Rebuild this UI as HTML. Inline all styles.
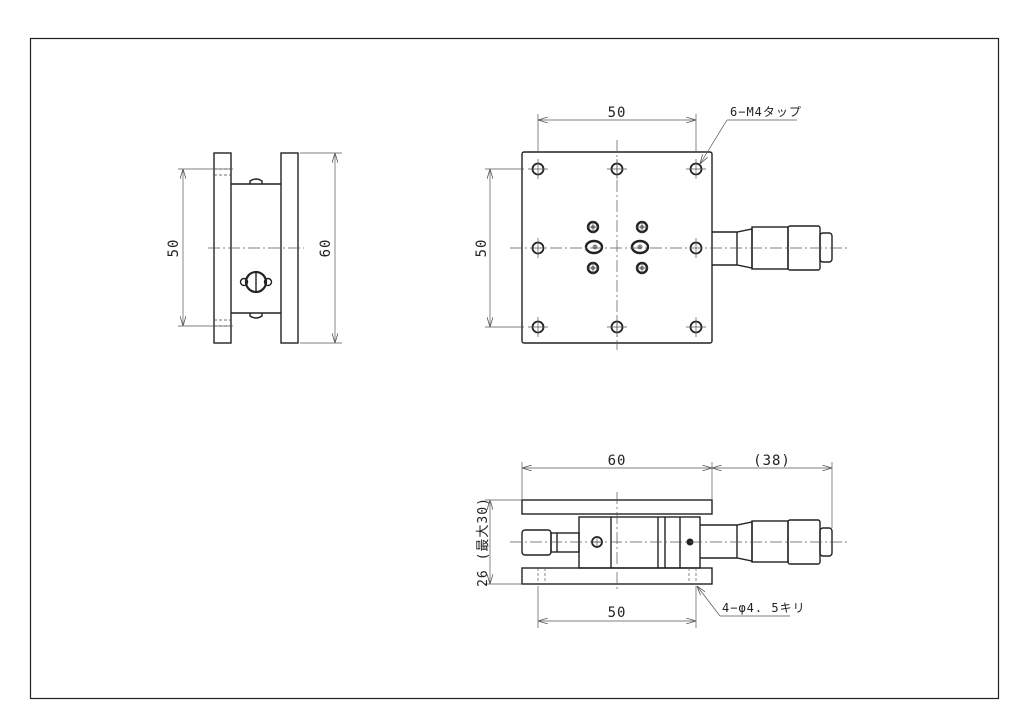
<!DOCTYPE html>
<html><head><meta charset="utf-8"><style>
html,body{margin:0;padding:0;background:#fff;width:1024px;height:724px;overflow:hidden}
svg{display:block}
text{font-family:"DejaVu Sans Mono","Liberation Mono","Noto Sans CJK JP",monospace;fill:#222;letter-spacing:1px}
</style></head><body>
<svg width="1024" height="724" viewBox="0 0 1024 724" xmlns="http://www.w3.org/2000/svg">
<defs>
<marker id="a" markerWidth="10" markerHeight="6" refX="10" refY="3" orient="auto-start-reverse" markerUnits="userSpaceOnUse"><path d="M0,0 L10,3 L0,6" fill="none" stroke="#555" stroke-width="0.8"/></marker>
</defs>
<rect x="30.5" y="38.5" width="968" height="660" fill="none" stroke="#222" stroke-width="1.2"/>

<!-- SIDE VIEW -->
<g stroke="#222" stroke-width="1.4" fill="none">
<rect x="214" y="153" width="17" height="190"/>
<rect x="281" y="153" width="17" height="190"/>
<line x1="231" y1="184" x2="281" y2="184"/>
<line x1="231" y1="313" x2="281" y2="313"/>
<path d="M250,184 v-3 q6,-4 12,0 v3"/>
<path d="M250,313 v3 q6,4 12,0 v-3"/>
<circle cx="256" cy="282" r="10" stroke-width="2.2"/>
<circle cx="244" cy="282" r="3.5"/><circle cx="268" cy="282" r="3.5"/>
<line x1="256" y1="272" x2="256" y2="292"/>
</g>
<g stroke="#444" stroke-width="0.7" stroke-dasharray="3,2" fill="none">
<line x1="214" y1="169" x2="231" y2="169"/><line x1="214" y1="175" x2="231" y2="175"/>
<line x1="214" y1="320" x2="231" y2="320"/><line x1="214" y1="326" x2="231" y2="326"/>
</g>
<g stroke="#555" stroke-width="0.7" fill="none">
<line x1="208" y1="248" x2="304" y2="248" stroke-dasharray="12,3,2,3"/>
<line x1="178" y1="169" x2="233" y2="169"/><line x1="178" y1="326" x2="233" y2="326"/>
<line x1="183" y1="169" x2="183" y2="326" marker-start="url(#a)" marker-end="url(#a)"/>
<line x1="300" y1="153" x2="342" y2="153"/><line x1="300" y1="343" x2="342" y2="343"/>
<line x1="335" y1="153" x2="335" y2="343" marker-start="url(#a)" marker-end="url(#a)"/>
</g>
<text x="0" y="0" font-size="14" text-anchor="middle" transform="translate(178,248) rotate(-90)">50</text>
<text x="0" y="0" font-size="14" text-anchor="middle" transform="translate(330,248) rotate(-90)">60</text>

<!-- TOP VIEW -->
<g stroke="#222" stroke-width="1.4" fill="none">
<rect x="522" y="152" width="190" height="191" rx="2"/>
<path d="M712,232 H737 L752,229 V268 L737,265 H712"/>
<line x1="737" y1="232" x2="737" y2="265"/>
<rect x="752" y="227" width="36" height="42"/>
<rect x="788" y="226" width="32" height="44" rx="2"/>
<rect x="820" y="233" width="12" height="29" rx="3"/>
</g>
<g stroke="#222" stroke-width="1.8" fill="#fff">
<circle cx="538" cy="169" r="5.5"/><circle cx="617" cy="169" r="5.5"/><circle cx="696" cy="169" r="5.5"/>
<circle cx="538" cy="248" r="5.5"/><circle cx="696" cy="248" r="5.5"/>
<circle cx="538" cy="327" r="5.5"/><circle cx="617" cy="327" r="5.5"/><circle cx="696" cy="327" r="5.5"/>
<circle cx="593" cy="227" r="5" stroke-width="2.4"/><circle cx="593" cy="268" r="5" stroke-width="2.4"/>
<circle cx="642" cy="227" r="5" stroke-width="2.4"/><circle cx="642" cy="268" r="5" stroke-width="2.4"/>
<ellipse cx="594" cy="247" rx="8" ry="6" stroke-width="2.4"/><ellipse cx="640" cy="247" rx="8" ry="6" stroke-width="2.4"/>
</g>
<g fill="#888"><circle cx="593" cy="227" r="2"/><circle cx="593" cy="268" r="2"/><circle cx="642" cy="227" r="2"/><circle cx="642" cy="268" r="2"/><circle cx="595" cy="247" r="2.5"/><circle cx="640" cy="247" r="2.5"/></g>
<g stroke="#555" stroke-width="0.7" fill="none">
<path d="M528,169h20M538,159v20M607,169h20M617,159v20M686,169h20M696,159v20M528,327h20M538,317v20M607,327h20M617,317v20M686,327h20M696,317v20M538,238v20M696,238v20M587,227h12M593,221v12M587,268h12M593,262v12M636,227h12M642,221v12M636,268h12M642,262v12"/>
<line x1="617" y1="140" x2="617" y2="350" stroke-dasharray="12,3,2,3"/>
<line x1="510" y1="248" x2="848" y2="248" stroke-dasharray="12,3,2,3"/>
<line x1="538" y1="114" x2="538" y2="152"/><line x1="696" y1="114" x2="696" y2="152"/>
<line x1="538" y1="120" x2="696" y2="120" marker-start="url(#a)" marker-end="url(#a)"/>
<line x1="485" y1="169" x2="524" y2="169"/><line x1="485" y1="327" x2="524" y2="327"/>
<line x1="490" y1="169" x2="490" y2="327" marker-start="url(#a)" marker-end="url(#a)"/>
<line x1="727" y1="120" x2="700" y2="164" marker-end="url(#a)"/>
<line x1="727" y1="120" x2="797" y2="120"/>
</g>
<text x="617" y="117" font-size="14" text-anchor="middle">50</text>
<text x="0" y="0" font-size="14" text-anchor="middle" transform="translate(486,248) rotate(-90)">50</text>
<text x="730" y="116" font-size="12" letter-spacing="0">6−M4タップ</text>

<!-- FRONT VIEW -->
<g stroke="#222" stroke-width="1.4" fill="none">
<rect x="522" y="500" width="190" height="14"/>
<rect x="522" y="568" width="190" height="16"/>
<rect x="579" y="517" width="121" height="51"/>
<line x1="611" y1="517" x2="611" y2="568"/>
<line x1="658" y1="517" x2="658" y2="568"/>
<line x1="665" y1="517" x2="665" y2="568"/>
<line x1="680" y1="517" x2="680" y2="568"/>
<rect x="522" y="530" width="29" height="25" rx="3"/>
<rect x="551" y="533" width="28" height="19"/>
<line x1="557" y1="533" x2="557" y2="552"/>
<path d="M700,525 H737 L752,522 V561 L737,558 H700"/>
<line x1="737" y1="525" x2="737" y2="558"/>
<rect x="752" y="521" width="36" height="41"/>
<rect x="788" y="520" width="32" height="44" rx="2"/>
<rect x="820" y="528" width="12" height="28" rx="3"/>
<circle cx="597" cy="542" r="5" stroke-width="1.8"/>
</g>
<circle cx="690" cy="542" r="3.5" fill="#222"/>
<g stroke="#555" stroke-width="0.7" fill="none">
<path d="M597,537v10M592,542h10"/>
<path d="M538,568v16M545,568v16M689,568v16M696,568v16" stroke-dasharray="3,2"/>
<line x1="617" y1="492" x2="617" y2="592" stroke-dasharray="12,3,2,3"/>
<line x1="510" y1="542" x2="848" y2="542" stroke-dasharray="12,3,2,3"/>
<line x1="522" y1="462" x2="522" y2="500"/><line x1="712" y1="462" x2="712" y2="500"/>
<line x1="832" y1="462" x2="832" y2="528"/>
<line x1="522" y1="468" x2="712" y2="468" marker-start="url(#a)" marker-end="url(#a)"/>
<line x1="712" y1="468" x2="832" y2="468" marker-start="url(#a)" marker-end="url(#a)"/>
<line x1="485" y1="500" x2="522" y2="500"/><line x1="485" y1="584" x2="522" y2="584"/>
<line x1="490" y1="500" x2="490" y2="584" marker-start="url(#a)" marker-end="url(#a)"/>
<line x1="538" y1="586" x2="538" y2="628"/><line x1="696" y1="586" x2="696" y2="628"/>
<line x1="538" y1="621" x2="696" y2="621" marker-start="url(#a)" marker-end="url(#a)"/>
<line x1="720" y1="616" x2="697" y2="586" marker-end="url(#a)"/>
<line x1="720" y1="616" x2="790" y2="616"/>
</g>
<text x="617" y="465" font-size="14" text-anchor="middle">60</text>
<text x="772" y="465" font-size="14" text-anchor="middle">(38)</text>
<text x="617" y="617" font-size="14" text-anchor="middle">50</text>
<text x="722" y="612" font-size="12" letter-spacing="0">4−φ4. 5キリ</text>
<text x="0" y="0" font-size="13" text-anchor="middle" letter-spacing="0" transform="translate(487,542) rotate(-90)">26 (最大30)</text>
</svg>
</body></html>
